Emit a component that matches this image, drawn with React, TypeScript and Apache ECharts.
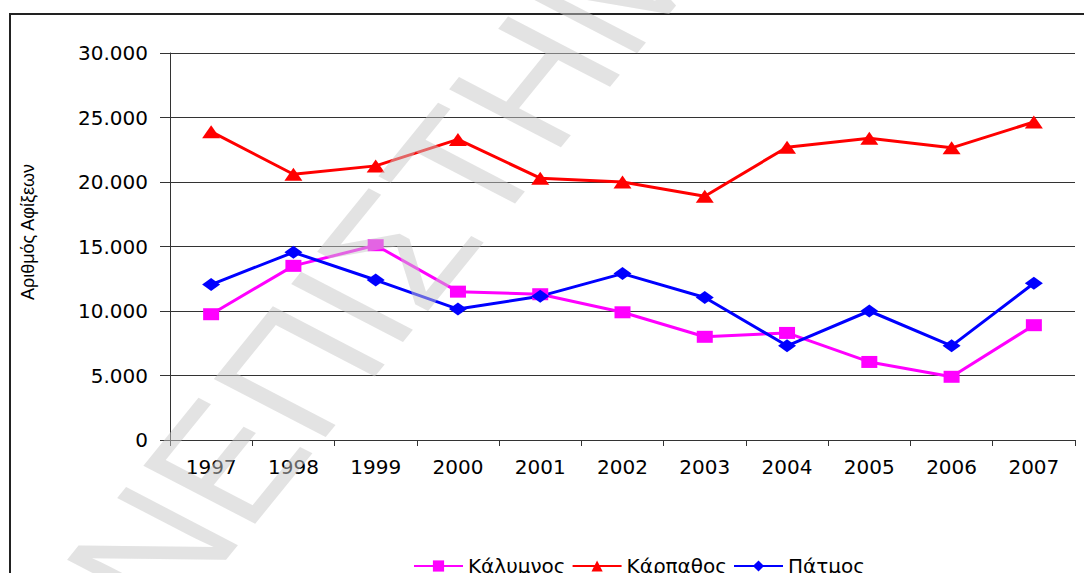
import React, { useEffect, useRef } from "react";
import * as echarts from "echarts";

const years = ["1997", "1998", "1999", "2000", "2001", "2002", "2003", "2004", "2005", "2006", "2007"];
const kalymnos = [9750, 13500, 15100, 11500, 11300, 9900, 8000, 8300, 6050, 4900, 8900];
const karpathos = [23900, 20600, 21250, 23300, 20300, 20000, 18900, 22700, 23400, 22650, 24650];
const patmos = [12050, 14550, 12400, 10150, 11150, 12900, 11050, 7300, 10000, 7300, 12150];
const seriesNames = ["Κάλυμνος", "Κάρπαθος", "Πάτμος"];
const yTitle = "Αριθμός Αφίξεων";
const watermarkA = "ΠΑΝΕΠΙΣ";
const watermarkB = "ΤΗΜΙΟ";

const FONT = "DejaVu Sans";

function fmt(v: number): string {
  if (v === 0) return "0";
  const s = String(Math.round(v));
  return s.replace(/\B(?=(\d{3})+(?!\d))/g, ".");
}

export default function App() {
  const ref = useRef<HTMLDivElement>(null);
  useEffect(() => {
    if (!ref.current) return;
    const chart = echarts.init(ref.current, undefined, { renderer: "svg" });
    const mk = (name: string, data: number[], color: string, symbol: string, size: number[]) => ({
      name,
      type: "line",
      data,
      symbol,
      symbolSize: size,
      lineStyle: { color, width: 3 },
      itemStyle: { color },
      z: 3,
    });
    const ang = (57 * Math.PI) / 180;
    const wmStyle = {
      fontSize: 155,
      fontFamily: "Liberation Sans",
      fill: "#c8c8c8",
      opacity: 0.5,
      verticalAlign: "middle",
    };
    chart.setOption({
      animation: false,
      backgroundColor: "#ffffff",
      textStyle: { fontFamily: FONT },
      grid: { left: 170, right: 9, top: 53, bottom: 133 },
      xAxis: {
        type: "category",
        data: years,
        boundaryGap: true,
        axisLine: { lineStyle: { color: "#333", width: 1 } },
        axisTick: { show: true, length: 6, interval: 0, lineStyle: { color: "#333" } },
        axisLabel: { color: "#000", fontSize: 20, fontFamily: FONT, margin: 17, interval: 0 },
        splitLine: { show: false },
      },
      yAxis: {
        type: "value",
        min: 0,
        max: 30000,
        interval: 5000,
        axisLine: { show: true, lineStyle: { color: "#333", width: 1 } },
        axisTick: { show: true, length: 10, inside: false, lineStyle: { color: "#333" } },
        axisLabel: { color: "#000", fontSize: 20, fontFamily: FONT, margin: 22, formatter: (v: number) => fmt(v) },
        splitLine: { show: true, lineStyle: { color: "#333", width: 1 } },
      },
      legend: {
        left: 408,
        top: 551,
        itemWidth: 49,
        itemHeight: 14,
        itemGap: 6,
        textStyle: { fontSize: 20, fontFamily: FONT, color: "#000", padding: [0, 0, 0, 0] },
        data: seriesNames,
      },
      series: [
        mk(seriesNames[0], kalymnos, "#ff00ff", "rect", [16, 12]),
        mk(seriesNames[1], karpathos, "#ff0000", "triangle", [18, 13]),
        mk(seriesNames[2], patmos, "#0000ff", "diamond", [18, 13]),
      ],
      graphic: [
        {
          type: "rect",
          shape: { x: 10, y: 14, width: 1120, height: 620 },
          style: { fill: "none", stroke: "#222", lineWidth: 2 },
          silent: true,
          z: 0,
        },
        {
          type: "text",
          x: 28,
          y: 232,
          rotation: Math.PI / 2,
          style: {
            text: yTitle,
            fontSize: 18,
            fontFamily: "Liberation Sans",
            fill: "#000",
            align: "center",
            verticalAlign: "middle",
          },
          silent: true,
        },
        {
          type: "group",
          x: 0,
          y: 0,
          scaleX: 1.25,
          scaleY: 1,
          silent: true,
          z: 100,
          children: [
            {
              type: "text",
              x: 345,
              y: 208,
              rotation: ang,
              style: { ...wmStyle, text: watermarkA, align: "right" },
              silent: true,
              z: 100,
            },
            {
              type: "text",
              x: 345,
              y: 208,
              rotation: ang,
              style: { ...wmStyle, text: watermarkB, align: "left" },
              silent: true,
              z: 100,
            },
          ],
        },
      ],
    });
    return () => chart.dispose();
  }, []);
  return <div ref={ref} style={{ position: "fixed", left: 0, top: 0, width: 1084, height: 573 }} />;
}
